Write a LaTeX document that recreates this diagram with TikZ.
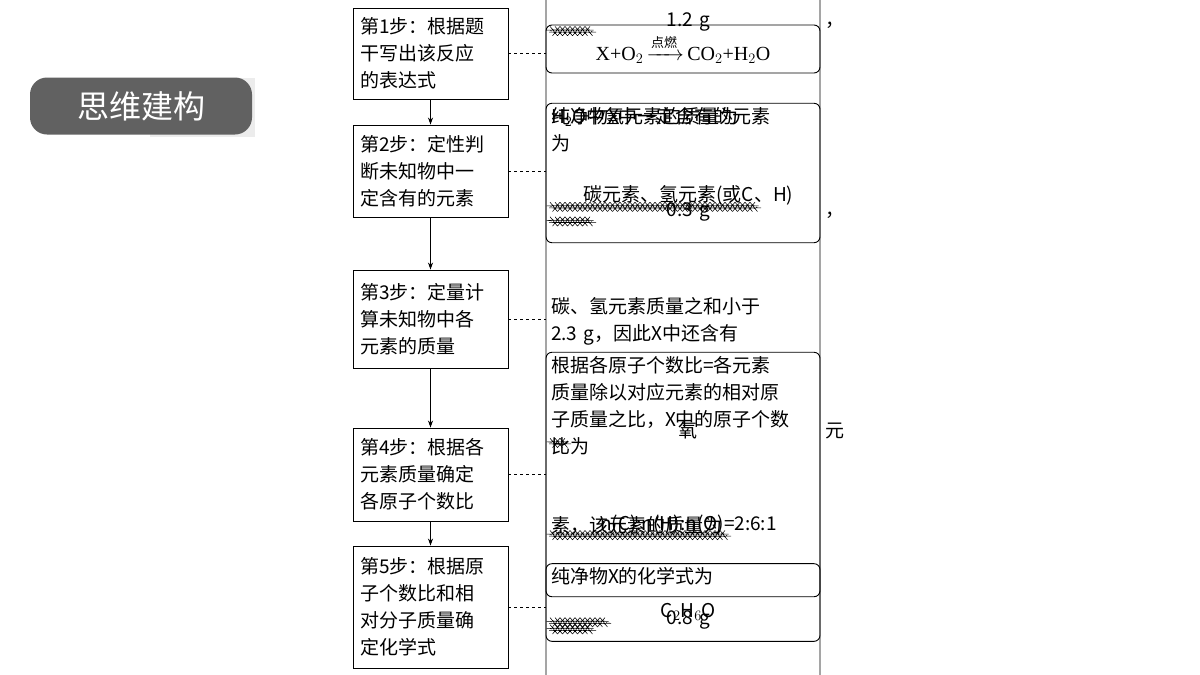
\documentclass[tikz,border=0pt]{standalone}
\usepackage{fontspec}
\usepackage{amsmath}
\setmainfont{Liberation Serif}
\newfontfamily\cjk{Noto Sans CJK SC}
\usetikzlibrary{arrows.meta}
\newsavebox\wb
\newlength\wl
\newcommand{\W}[1]{\sbox\wb{#1}\wl=\wd\wb\pgfmathtruncatemacro\nw{\wl/5}\tikz[x=1pt,y=1pt,baseline=0pt]{\node[anchor=base west,inner sep=0pt] (w) at (0,0) {\usebox\wb};\draw[line width=0.5pt,solid] (0,-5) \foreach \k in {1,...,\nw}{ sin ++(1.25,1) cos ++(1.25,-1) sin ++(1.25,-1) cos ++(1.25,1)};}}
\begin{document}
\begin{tikzpicture}[x=1pt,y=-1pt,
  lbox/.style={draw,line width=0.9pt,minimum width=155pt,text width=141pt,align=left,inner sep=5pt,font=\cjk\fontsize{19}{27}\selectfont},
  rbox/.style={draw,line width=0.9pt,rounded corners=6pt,minimum width=274pt,text width=264pt,align=left,inner sep=4pt,font=\cjk\fontsize{19}{27}\selectfont},
  arr/.style={-{Stealth[length=7pt,width=5pt]},line width=0.8pt},
  dsh/.style={dashed,line width=0.7pt}]
\useasboundingbox (0,0) rectangle (1200,675);
\fill[white] (0,0) rectangle (1200,675);
\fill[gray!15] (150,78) rectangle (255,137);
\node[fill=black!62,rounded corners=17pt,minimum width=222pt,minimum height=57pt,text=white,font=\cjk\fontsize{32}{36}\selectfont] (t) at (141,106) {思维建构};
\node[lbox,minimum height=91pt] (l1) at (430.5,53.5) {第1步：根据题\\干写出该反应\\的表达式};
\node[lbox,minimum height=92pt] (l2) at (430.5,171) {第2步：定性判\\断未知物中一\\定含有的元素};
\node[lbox,minimum height=98pt] (l3) at (430.5,319) {第3步：定量计\\算未知物中各\\元素的质量};
\node[lbox,minimum height=93pt] (l4) at (430.5,474.5) {第4步：根据各\\元素质量确定\\各原子个数比};
\node[lbox,minimum height=122pt] (l5) at (430.5,607) {第5步：根据原\\子个数比和相\\对分子质量确\\定化学式};
\node[rbox,minimum height=48pt,align=center,font=\rmfamily\fontsize{20}{24}\selectfont] (r1) at (683,49) {X+O$_2$\,$\xrightarrow{\raisebox{2pt}{\cjk\fontsize{13}{13}\selectfont 点燃}}$\,CO$_2$+H$_2$O};
\node[rbox,minimum height=86pt] (r2) at (683,173) {纯净物X中一定含有的元素\\为 \W{碳元素、氢元素(或C、H)}};
\node[rbox,minimum height=169pt] (r3) at (683,310.5) {CO$_2$中碳元素的质量为 \W{1.2 g}，\\H$_2$O中氢元素的质量为 \W{0.3 g}，\\碳、氢元素质量之和小于\\2.3 g，因此X中还含有 \W{氧}元\\素，该元素的质量为 \W{0.8 g}};
\node[rbox,minimum height=137pt] (r4) at (683,474.5) {根据各原子个数比=各元素\\质量除以对应元素的相对原\\子质量之比，X中的原子个数\\比为 \W{\textit{n}(C):\textit{n}(H):\textit{n}(O)=2:6:1}};
\node[rbox,minimum height=51pt] (r5) at (683,602.5) {纯净物X的化学式为 \W{C$_2$H$_6$O}};
\draw[arr] (l1) -- (l2);
\draw[arr] (l2) -- (l3);
\draw[arr] (l3) -- (l4);
\draw[arr] (l4) -- (l5);
\foreach \i in {1,...,5}{\draw[dsh] (l\i.east) -- (l\i.east -| r\i.west);}
\end{tikzpicture}
\end{document}
